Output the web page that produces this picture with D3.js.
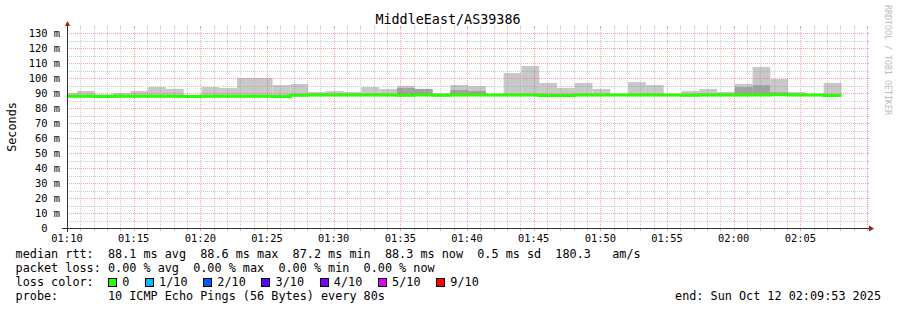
<!DOCTYPE html>
<html><head><meta charset="utf-8">
<script src="https://cdn.jsdelivr.net/npm/d3@7"></script>
<style>
html,body{margin:0;padding:0;background:#fff;}
svg{display:block;}
text{font-family:"DejaVu Sans Mono",monospace;white-space:pre;}
</style></head><body>
<svg id="c" width="897" height="310"></svg>
<script>
// ---------- data ----------
const chartTitle = "MiddleEast/AS39386";
const yAxisTitle = "Seconds";
const watermark = "RRDTOOL / TOBI OETIKER";
const startTime = "2025-10-12T01:10:00";
const endTime = "2025-10-12T02:10:00";
const firstStepEnd = "2025-10-12T01:10:45";
const stepSeconds = 80;
// median rtt per 80 s step (ms)
const medianRtt = [87.8,87.8,87.7,87.8,87.8,87.8,87.8,87.6,87.8,87.8,87.8,87.8,87.6,
  88.5,88.6,88.6,88.6,88.6,88.6,88.5,88.7,88.5,88.6,88.7,88.6,88.6,88.6,88.4,88.4,88.6,
  88.6,88.7,88.6,88.6,88.6,88.5,88.6,88.6,88.6,88.7,88.9,88.6,88.6,88.4];
// top of the smoke (highest ping) per step (ms)
const smokeTop = [90,91.3,89.1,90,91.3,94,92.7,88.4,94,93.3,100,100,95.3,
  96,90.7,91.3,90.7,94,92.7,94.7,92.7,89.8,95.3,94.7,89.2,103.3,108,96.7,93.3,96.7,
  92.7,89.4,97.3,95.3,89.2,91.3,92.7,90.7,96,107.3,99.3,90.7,89.2,96.7];
// top of the dense (dark) smoke band, null when there is none
const smokeDarkTop = [null,null,null,null,null,null,null,null,null,null,null,null,null,
  null,null,null,null,null,null,93.3,92.7,null,92,91.3,null,null,null,null,null,null,
  null,null,null,null,null,null,null,null,94,95.3,90.5,null,null,null];
const yTicks = [0,10,20,30,40,50,60,70,80,90,100,110,120,130];
const yUnit = "m";
const rttStats = ["88.1","88.6","87.2","88.3"];
const rttSd = "0.5";
const rttAms = "180.3";
const lossStats = ["0.00","0.00","0.00","0.00"];
const lossLabels = ["0","1/10","2/10","3/10","4/10","5/10","9/10"];
const lossColors = ["#26ff00","#00b8ff","#0059ff","#5e00ff","#7e00ff","#dd00ff","#ff0000"];
const probeText = "10 ICMP Echo Pings (56 Bytes) every 80s";
const endText = "end: Sun Oct 12 02:09:53 2025";

// ---------- layout ----------
const X0 = 67, X1 = 867, Y0 = 228, YT = 28;
const svg = d3.select("#c");
const t0 = new Date(startTime), t1 = new Date(endTime);
const x = d3.scaleTime().domain([t0, t1]).range([X0, X1]);
const y = d3.scaleLinear().domain([0, 400/3]).range([Y0, YT]);

const firstEnd = new Date(firstStepEnd);
const steps = medianRtt.map((m, i) => {
  const end = new Date(firstEnd.getTime() + i * stepSeconds * 1000);
  const start = new Date(Math.max(t0.getTime(), end.getTime() - stepSeconds * 1000));
  return {start, end, med: m, top: smokeTop[i], dark: smokeDarkTop[i]};
});

svg.append("rect").attr("width", 897).attr("height", 310).attr("fill", "#fff");

// smoke
const gS = svg.append("g");
gS.selectAll("rect.l").data(steps).join("rect")
  .attr("x", d => x(d.start)).attr("width", d => x(d.end) - x(d.start))
  .attr("y", d => y(d.top)).attr("height", d => Math.max(0, y(d.med - 0.8) - y(d.top)))
  .attr("fill", "#c8c8c8");
gS.selectAll("rect.d").data(steps.filter(d => d.dark != null)).join("rect")
  .attr("x", d => x(d.start)).attr("width", d => x(d.end) - x(d.start))
  .attr("y", d => y(d.dark)).attr("height", d => Math.max(0, y(d.med) - y(d.dark)))
  .attr("fill", "#a2a2a2");

// grid
const gridMinor = "rgba(143,143,143,0.45)", gridMajor = "rgba(222,80,80,0.5)";
const gG = svg.append("g").attr("shape-rendering", "crispEdges");
const minutes = d3.timeMinute.range(t0, new Date(t1.getTime() + 1));
minutes.forEach(t => {
  const major = t.getMinutes() % 5 === 0;
  const px = Math.round(x(t)) + 0.5;
  gG.append("line").attr("x1", px).attr("x2", px).attr("y1", YT).attr("y2", Y0)
    .attr("stroke", major ? gridMajor : gridMinor).attr("stroke-dasharray", "1,1");
  gG.append("line").attr("x1", px).attr("x2", px).attr("y1", Y0).attr("y2", Y0 + 3)
    .attr("stroke", major ? gridMajor : gridMinor);
  gG.append("line").attr("x1", px).attr("x2", px).attr("y1", YT - 2).attr("y2", YT)
    .attr("stroke", major ? gridMajor : gridMinor);
});
d3.range(5, 135, 5).forEach(v => {
  const major = v % 10 === 0;
  const py = Math.round(y(v)) + 0.5;
  gG.append("line").attr("x1", X0).attr("x2", X1).attr("y1", py).attr("y2", py)
    .attr("stroke", major ? gridMajor : gridMinor).attr("stroke-dasharray", "1,1");
  gG.append("line").attr("x1", X1).attr("x2", X1 + 2).attr("y1", py).attr("y2", py)
    .attr("stroke", major ? gridMajor : gridMinor);
});

// median line
const pts = steps.map(d => [x(d.start), y(d.med)]);
pts.push([x(steps[steps.length - 1].end), y(steps[steps.length - 1].med)]);
svg.append("path").attr("d", d3.line().curve(d3.curveStepAfter)(pts))
  .attr("fill", "none").attr("stroke", lossColors[0]).attr("stroke-width", 3);

// axes
const axisCol = "#303030", arrowCol = "#a01818";
svg.append("line").attr("x1", X0 - 5).attr("x2", X1 + 3).attr("y1", Y0 + 0.5).attr("y2", Y0 + 0.5)
  .attr("stroke", axisCol).attr("shape-rendering", "crispEdges");
svg.append("line").attr("x1", X0 + 0.5).attr("x2", X0 + 0.5).attr("y1", Y0 + 4).attr("y2", YT - 2)
  .attr("stroke", axisCol).attr("shape-rendering", "crispEdges");
svg.append("path").attr("d", `M${X1 + 2},${Y0 - 2.5}L${X1 + 7},${Y0 + 0.5}L${X1 + 2},${Y0 + 3.5}Z`).attr("fill", arrowCol);
svg.append("path").attr("d", `M${X0 - 2},${YT - 2}L${X0 + 0.5},${YT - 7}L${X0 + 3},${YT - 2}Z`).attr("fill", arrowCol);

// x labels
const fmt = d3.timeFormat("%H:%M");
svg.append("g").selectAll("text").data(d3.timeMinute.every(5).range(t0, t1)).join("text")
  .attr("x", d => x(d)).attr("y", 242).attr("text-anchor", "middle")
  .attr("font-size", "10.4px").attr("fill", "#000").text(d => fmt(d));

// y labels
const adv = 10.4 * 0.602;
svg.append("g").selectAll("text").data(yTicks).join("text")
  .attr("x", d => d === 0 ? 60 - 2 * adv : 60).attr("y", d => y(d) + 3.8)
  .attr("text-anchor", "end").attr("font-size", "10.4px").attr("fill", "#000")
  .text(d => d === 0 ? "0" : d + " " + yUnit);

// titles
svg.append("text").attr("x", 448).attr("y", 24).attr("text-anchor", "middle")
  .attr("font-size", "13.4px").attr("fill", "#000").text(chartTitle);
svg.append("text").attr("transform", "translate(15.5,127) rotate(-90)").attr("text-anchor", "middle")
  .attr("font-size", "11.8px").attr("fill", "#000").text(yAxisTitle);
svg.append("text").attr("transform", "translate(884.5,5) rotate(90)")
  .attr("font-size", "8.3px").attr("fill", "#bbbbbb").text(watermark);

// legend
const LX = 15.6, LA = 11.8 * 0.602;
const legend = [
  `median rtt:  ${rttStats[0]} ms avg  ${rttStats[1]} ms max  ${rttStats[2]} ms min  ${rttStats[3]} ms now  ${rttSd} ms sd  ${rttAms}   am/s`,
  `packet loss: ${lossStats[0]} % avg  ${lossStats[1]} % max  ${lossStats[2]} % min  ${lossStats[3]} % now`,
  `loss color:`,
  `probe:       ${probeText}`
];
legend.forEach((s, i) => {
  svg.append("text").attr("x", LX).attr("y", 257.5 + i * 14).attr("xml:space", "preserve")
    .attr("font-size", "11.8px").attr("fill", "#000").text(s);
});
let c = 13;
lossLabels.forEach((lab, i) => {
  const bx = LX + c * LA;
  svg.append("rect").attr("x", Math.round(bx) + 0.5).attr("y", 278.5).attr("width", 8).attr("height", 8)
    .attr("fill", lossColors[i]).attr("stroke", "#000").attr("stroke-width", 1);
  svg.append("text").attr("x", LX + (c + 2) * LA).attr("y", 285.5).attr("font-size", "11.8px")
    .attr("fill", "#000").text(lab);
  c += 2 + lab.length + 2.2;
});
svg.append("text").attr("x", 881).attr("y", 299.5).attr("text-anchor", "end").attr("xml:space", "preserve")
  .attr("font-size", "11.8px").attr("fill", "#000").text(endText);
</script>
</body></html>
